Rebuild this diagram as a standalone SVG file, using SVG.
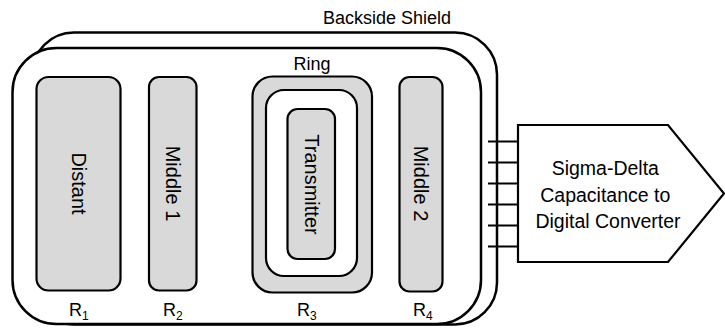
<svg xmlns="http://www.w3.org/2000/svg" width="725" height="329" viewBox="0 0 725 329">
<style>
text{font-family:"Liberation Sans",Arial,sans-serif;fill:#000}
.shield{fill:#fff;stroke:#000;stroke-width:2.5}
.elec{fill:#d9d9d9;stroke:#000;stroke-width:2.2}
.inner{fill:#fff;stroke:#000;stroke-width:2.2}
.lbl{font-size:18px}
.rot{font-size:20px;text-anchor:middle;dominant-baseline:central}
.conn line{stroke:#000;stroke-width:2}
</style>
<rect width="725" height="329" fill="#fff"/>
<g id="backside-shield">
<rect class="shield" x="32" y="32.5" width="465" height="292" rx="42"/>
<text class="lbl" x="323" y="24">Backside Shield</text>
</g>
<g id="front-plane">
<rect class="shield" x="12.5" y="48" width="468.5" height="276" rx="44"/>
</g>
<g id="distant">
<rect class="elec" x="36.5" y="77" width="84" height="213.5" rx="12"/>
<text class="rot" transform="translate(78.5,183.5) rotate(90)">Distant</text>
<text class="lbl" x="69" y="316">R<tspan font-size="12" dy="4">1</tspan></text>
</g>
<g id="middle1">
<rect class="elec" x="149" y="77" width="47.5" height="213.5" rx="10"/>
<text class="rot" transform="translate(172.5,183.5) rotate(90)">Middle 1</text>
<text class="lbl" x="163" y="316">R<tspan font-size="12" dy="4">2</tspan></text>
</g>
<g id="ring">
<rect class="elec" x="252.5" y="76.5" width="119.5" height="216" rx="20"/>
<rect class="inner" x="266" y="90" width="91" height="186" rx="18"/>
<text class="lbl" x="312" y="70" text-anchor="middle">Ring</text>
<text class="lbl" x="297" y="316">R<tspan font-size="12" dy="4">3</tspan></text>
</g>
<g id="transmitter">
<rect class="elec" x="287.5" y="109" width="47.5" height="150" rx="10"/>
<text class="rot" transform="translate(311.5,184.5) rotate(90)">Transmitter</text>
</g>
<g id="middle2">
<rect class="elec" x="399.5" y="77" width="43" height="214.5" rx="10"/>
<text class="rot" transform="translate(421,183.5) rotate(90)">Middle 2</text>
<text class="lbl" x="413" y="316">R<tspan font-size="12" dy="4">4</tspan></text>
</g>
<g id="connectors" class="conn">
<line x1="488" y1="141.5" x2="518" y2="141.5"/>
<line x1="488" y1="162.5" x2="518" y2="162.5"/>
<line x1="488" y1="183.5" x2="518" y2="183.5"/>
<line x1="488" y1="204.5" x2="518" y2="204.5"/>
<line x1="488" y1="225.5" x2="518" y2="225.5"/>
<line x1="488" y1="246.5" x2="518" y2="246.5"/>
</g>
<g id="converter">
<polygon points="518,125 668,125 724,193.5 668,262 518,262" fill="#fff" stroke="#000" stroke-width="2.2"/>
<text x="608" text-anchor="middle" font-size="19.5">
<tspan x="608" y="175">Sigma-Delta</tspan>
<tspan x="608" y="202">Capacitance to</tspan>
<tspan x="608" y="228">Digital Converter</tspan>
</text>
</g>
</svg>
